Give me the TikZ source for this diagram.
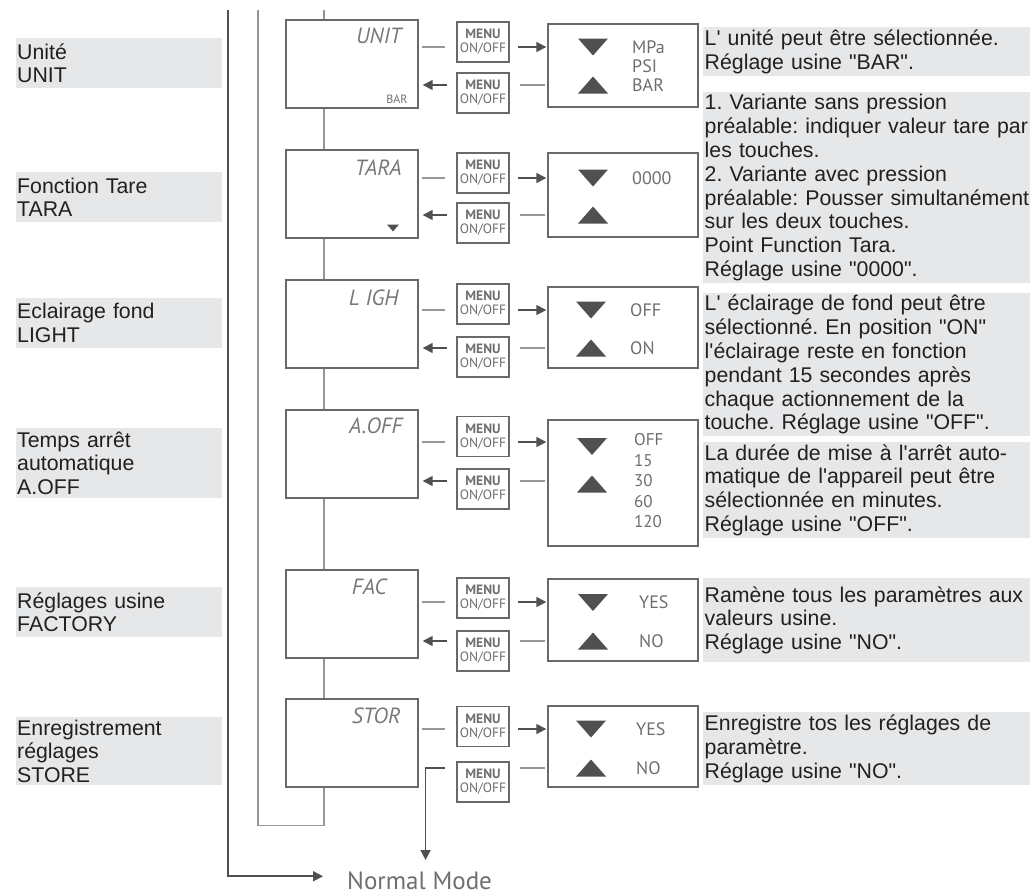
\documentclass[tikz,border=0pt]{standalone}
\usepackage{fontspec}
\setmainfont{Liberation Sans}[Ligatures=TeXOff]
\newfontfamily\dinfont{PT Sans}[Ligatures=TeXOff]
\usepackage{xcolor}
\usepackage{tikz}
\usetikzlibrary{arrows.meta,positioning,calc}
\frenchspacing

\definecolor{panel}{RGB}{230,231,232}
\definecolor{ink}{RGB}{35,31,32}
\definecolor{linec}{RGB}{150,150,150}
\definecolor{boxc}{RGB}{105,105,105}
\definecolor{darkc}{RGB}{80,80,80}
\definecolor{valc}{RGB}{110,110,110}
\definecolor{lcdc}{RGB}{120,120,120}

\begin{document}
\begin{tikzpicture}[
  x=1pt, y=-1pt,
  font=\fontsize{21.3}{23.8}\selectfont,
  side/.style ={fill=panel, text=ink, align=left, anchor=north west,
                text width=204pt, inner xsep=1pt, inner ysep=0pt},
  desc/.style ={fill=panel, text=ink, align=left, anchor=north west,
                text width=330pt, inner xsep=1.5pt, inner ysep=0pt},
  disp/.style ={draw=boxc, line width=1.4pt, minimum width=132pt,
                minimum height=88pt, inner sep=0pt},
  sel/.style  ={draw=boxc, line width=1.4pt, minimum width=150pt, inner sep=0pt},
  key/.style  ={draw=boxc, line width=1.8pt, minimum width=52pt, minimum height=40pt,
                inner sep=0pt, align=center, text=valc,
                font=\dinfont\fontsize{13.5}{14}\selectfont},
  lcd/.style  ={anchor=north east, inner sep=0pt, text=lcdc,
                font=\dinfont\itshape\fontsize{22}{22}\selectfont},
  val/.style  ={anchor=west, inner sep=0pt, text=valc, align=left,
                font=\dinfont\fontsize{18}{18.7}\selectfont},
  ln/.style   ={draw=linec, line width=1.4pt},
  ar/.style   ={draw=darkc, line width=1.6pt, -{Triangle[length=10pt,width=10pt]}},
  lnA/.style  ={ln, shorten <=3pt, shorten >=11pt},
  arA/.style  ={ar, shorten <=8pt, shorten >=1pt},
  lnB/.style  ={ln, shorten <=2pt, shorten >=10pt},
  arB/.style  ={ar, shorten <=9pt, shorten >=4pt},
  tridn/.pic  ={\fill[darkc] (-15,-8.5) -- (15,-8.5) -- (0,8.5) -- cycle;},
  triup/.pic  ={\fill[darkc] (-15,8.5) -- (15,8.5) -- (0,-8.5) -- cycle;},
]
\useasboundingbox (0,0) rectangle (1030,895);

% ---------------- UNIT ------------------------------------------------------
\node[side, minimum height=50pt] (unitside) at (16,38) {Unité\\UNIT};
\node[disp] (unit) at (352,64) {};
\node[lcd] (unitlcd) at ([xshift=-17pt,yshift=-8pt]unit.north east) {UNIT};
\node[anchor=south east, inner sep=0pt, text=valc, font=\dinfont\fontsize{12}{12}\selectfont]
  (unitbar) at ([xshift=-11pt,yshift=5pt]unit.south east) {BAR};
\node[key] (unitk1) at (483,42) {\textbf{MENU}\\ON/OFF};
\node[key] (unitk2) at (483,93) {\textbf{MENU}\\ON/OFF};
\node[sel, minimum height=83pt] (unitsel) at (623,65.5) {};
\coordinate (unitA) at (0,47);
\coordinate (unitB) at (0,85);
\pic at (593,47) {tridn};
\pic at (593,85) {triup};
\node[val] (unitval) at (632,66) {MPa\\PSI\\BAR};
\node[desc, minimum height=49pt] (unitdesc) at (703,27)
  {L' unité peut être sélectionnée.\\Réglage usine "BAR".};
\draw[lnA] (unit.east |- unitA) -- (unitk1.west |- unitA);
\draw[arA] (unitk1.east |- unitA) -- (unitsel.west |- unitA);
\draw[lnB] (unitsel.west |- unitB) -- (unitk2.east |- unitB);
\draw[arB] (unitk2.west |- unitB) -- (unit.east |- unitB);

% ---------------- TARA ------------------------------------------------------
\node[side, minimum height=50pt] (taraside) at (16,172) {Fonction Tare\\TARA};
\node[disp] (tara) at (352,194) {};
\node[lcd] (taralcd) at ([xshift=-17pt,yshift=-10pt]tara.north east) {TARA};
\pic[scale=0.4] at (393,228) {tridn};
\node[key] (tarak1) at (483,173) {\textbf{MENU}\\ON/OFF};
\node[key] (tarak2) at (483,223) {\textbf{MENU}\\ON/OFF};
\node[sel, minimum height=84pt] (tarasel) at (623,195) {};
\coordinate (taraA) at (0,178);
\coordinate (taraB) at (0,215);
\pic at (593,178) {tridn};
\pic at (593,215) {triup};
\node[val] (taraval) at (632,178) {0000};
\node[desc, minimum height=191pt] (taradesc) at (703,92)
  {1. Variante sans pression\\préalable: indiquer valeur tare par\\les touches.\\
   2. Variante avec pression\\préalable: Pousser simultanément\\sur les deux touches.\\
   Point Function Tara.\\Réglage usine "0000".};
\draw[lnA] (tara.east |- taraA) -- (tarak1.west |- taraA);
\draw[arA] (tarak1.east |- taraA) -- (tarasel.west |- taraA);
\draw[lnB] (tarasel.west |- taraB) -- (tarak2.east |- taraB);
\draw[arB] (tarak2.west |- taraB) -- (tara.east |- taraB);

% ---------------- LIGHT -----------------------------------------------------
\node[side, minimum height=50pt] (lighside) at (16,298) {Eclairage fond\\LIGHT};
\node[disp] (ligh) at (352,324) {};
\node[lcd] (lighlcd) at ([xshift=-20pt,yshift=-10pt]ligh.north east) {L IGH};
\node[key] (lighk1) at (483,304) {\textbf{MENU}\\ON/OFF};
\node[key] (lighk2) at (483,357) {\textbf{MENU}\\ON/OFF};
\node[sel, minimum height=81pt] (lighsel) at (623,327.5) {};
\coordinate (lighA) at (0,310);
\coordinate (lighB) at (0,348);
\pic at (591,310) {tridn};
\pic at (591,348) {triup};
\node[val] (lighoff) at (630,310) {OFF};
\node[val] (lighon) at (630,348) {ON};
\node[desc, minimum height=143pt] (lighdesc) at (703,293)
  {L' éclairage de fond peut être\\sélectionné. En position "ON"\\l'éclairage reste en fonction\\
   pendant 15 secondes après\\chaque actionnement de la\\touche. Réglage usine "OFF".};
\draw[lnA] (ligh.east |- lighA) -- (lighk1.west |- lighA);
\draw[arA] (lighk1.east |- lighA) -- (lighsel.west |- lighA);
\draw[lnB] (lighsel.west |- lighB) -- (lighk2.east |- lighB);
\draw[arB] (lighk2.west |- lighB) -- (ligh.east |- lighB);

% ---------------- A.OFF -----------------------------------------------------
\node[side, minimum height=70pt] (aoffside) at (16,428) {Temps arrêt\\automatique\\A.OFF};
\node[disp] (aoff) at (352,454) {};
\node[lcd] (aofflcd) at ([xshift=-16pt,yshift=-8pt]aoff.north east) {A.OFF};
\node[key] (aoffk1) at (483,436.5) {\textbf{MENU}\\ON/OFF};
\node[key] (aoffk2) at (483,489) {\textbf{MENU}\\ON/OFF};
\node[sel, minimum height=126pt] (aoffsel) at (623,483) {};
\coordinate (aoffA) at (0,442);
\coordinate (aoffB) at (0,481);
\pic at (592,446.5) {tridn};
\pic at (592,484) {triup};
\node[val, font=\dinfont\fontsize{17}{20.5}\selectfont] (aoffval) at (634,481)
  {OFF\\15\\30\\60\\120};
\node[desc, minimum height=96pt] (aoffdesc) at (703,442)
  {La durée de mise à l'arrêt auto-\\matique de l'appareil peut être\\
   sélectionnée en minutes.\\Réglage usine "OFF".};
\draw[lnA] (aoff.east |- aoffA) -- (aoffk1.west |- aoffA);
\draw[arA] (aoffk1.east |- aoffA) -- (aoffsel.west |- aoffA);
\draw[lnB] (aoffsel.west |- aoffB) -- (aoffk2.east |- aoffB);
\draw[arB] (aoffk2.west |- aoffB) -- (aoff.east |- aoffB);

% ---------------- FACTORY ---------------------------------------------------
\node[side, minimum height=50pt] (facside) at (16,587) {Réglages usine\\FACTORY};
\node[disp] (fac) at (352,614) {};
\node[lcd] (faclcd) at ([xshift=-32pt,yshift=-9pt]fac.north east) {FAC};
\node[key] (fack1) at (483,598) {\textbf{MENU}\\ON/OFF};
\node[key] (fack2) at (483,651) {\textbf{MENU}\\ON/OFF};
\node[sel, minimum height=82pt] (facsel) at (623,620) {};
\coordinate (facA) at (0,602);
\coordinate (facB) at (0,641);
\pic at (593,602.5) {tridn};
\pic at (593,641) {triup};
\node[val] (facyes) at (639,602) {YES};
\node[val] (facno) at (639,641) {NO};
\node[desc, minimum height=84pt] (facdesc) at (703,578)
  {Ramène tous les paramètres aux\\valeurs usine.\\Réglage usine "NO".};
\draw[lnA] (fac.east |- facA) -- (fack1.west |- facA);
\draw[arA] (fack1.east |- facA) -- (facsel.west |- facA);
\draw[lnB] (facsel.west |- facB) -- (fack2.east |- facB);
\draw[arB] (fack2.west |- facB) -- (fac.east |- facB);

% ---------------- STORE -----------------------------------------------------
\node[side, minimum height=68pt] (storside) at (16,717) {Enregistrement\\réglages\\STORE};
\node[disp] (stor) at (352,743) {};
\node[lcd] (storlcd) at ([xshift=-18pt,yshift=-9pt]stor.north east) {STOR};
\node[key] (stork1) at (483,726.5) {\textbf{MENU}\\ON/OFF};
\node[key] (stork2) at (483,782) {\textbf{MENU}\\ON/OFF};
\node[sel, minimum height=81pt] (storsel) at (623,746.5) {};
\coordinate (storA) at (0,729);
\coordinate (storB) at (0,768);
\pic at (591,729) {tridn};
\pic at (591,768) {triup};
\node[val] (storyes) at (636,729) {YES};
\node[val] (storno) at (636,768) {NO};
\node[desc, minimum height=73pt] (stordesc) at (703,712)
  {Enregistre tos les réglages de\\paramètre.\\Réglage usine "NO".};
\draw[lnA] (stor.east |- storA) -- (stork1.west |- storA);
\draw[arA] (stork1.east |- storA) -- (storsel.west |- storA);
\draw[lnB] (storsel.west |- storB) -- (stork2.east |- storB);

% ---------------- trunk, loop back, exit ------------------------------------
\coordinate (trunk) at (324,10);
\coordinate (loop)  at (258,10);
\coordinate (home)  at (228,10);
\draw[ln] (trunk) -- (unit.north -| trunk);
\draw[ln] (unit.south -| trunk) -- (tara.north -| trunk);
\draw[ln] (tara.south -| trunk) -- (ligh.north -| trunk);
\draw[ln] (ligh.south -| trunk) -- (aoff.north -| trunk);
\draw[ln] (aoff.south -| trunk) -- (fac.north -| trunk);
\draw[ln] (fac.south -| trunk) -- (stor.north -| trunk);
\draw[ln] (stor.south -| trunk) -- ++(0,38) -| (loop);

\node[anchor=base west, inner sep=0pt, text=valc, font=\dinfont\fontsize{25}{25}\selectfont]
  (normal) at (347,889) {Normal Mode};
\draw[ar, shorten >=24pt] (home) |- ([yshift=4pt]normal.west);
\draw[ar, shorten <=11pt, shorten >=11pt] (stork2.west |- storB) -| ([xshift=6pt]normal.north);

\end{tikzpicture}
\end{document}
